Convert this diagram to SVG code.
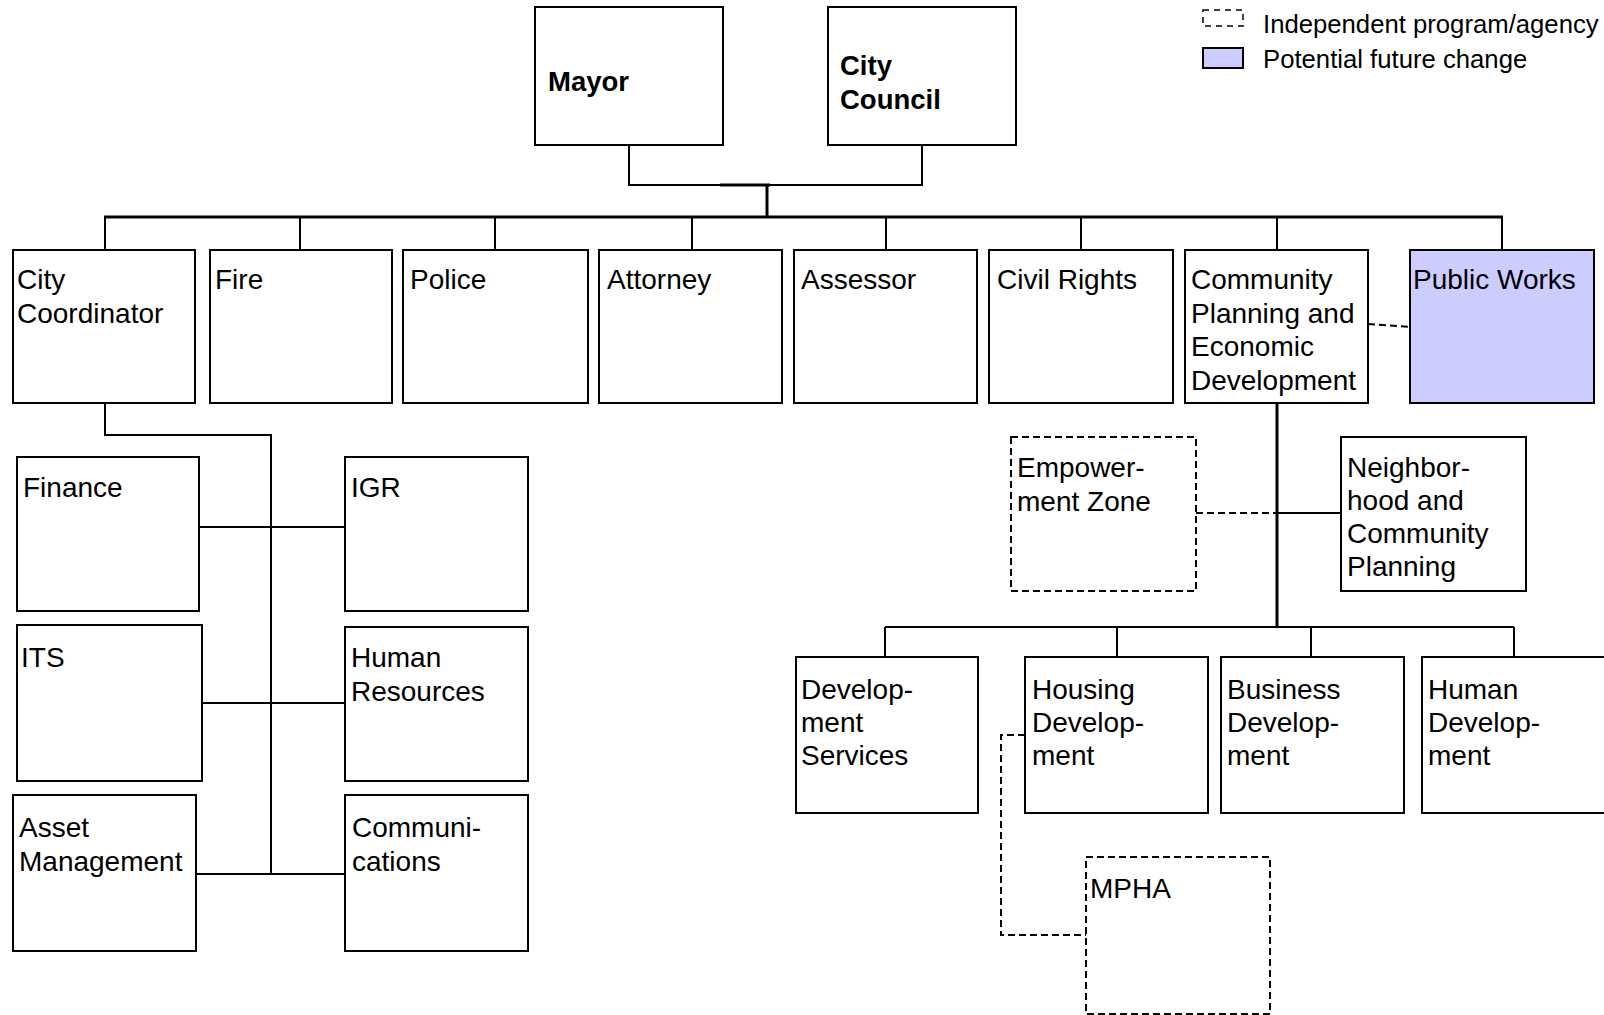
<svg xmlns="http://www.w3.org/2000/svg" width="1604" height="1015" viewBox="0 0 1604 1015">
  <style>
    .box { fill: #ffffff; stroke: #000000; stroke-width: 2; }
    .ind { fill: #ffffff; stroke: #000000; stroke-width: 2; stroke-dasharray: 7 4; }
    .chg { fill: #ccccff; stroke: #000000; stroke-width: 2; }
    .lbl { font-family: "Liberation Sans", Arial, sans-serif; font-size: 28px; fill: #000000; }
    .bold { font-family: "Liberation Sans", Arial, sans-serif; font-size: 27.5px; font-weight: bold; fill: #000000; }
    .leg { font-family: "Liberation Sans", Arial, sans-serif; font-size: 25.7px; fill: #000000; }
    .ln { fill: none; stroke: #000000; stroke-width: 2; }
    .thick { fill: none; stroke: #000000; stroke-width: 3; }
    .dash { fill: none; stroke: #000000; stroke-width: 2; stroke-dasharray: 7 4; }
  </style>

  <!-- legend -->
  <g id="legend">
    <rect x="1203" y="10" width="40" height="16" fill="#ffffff" stroke="#000000" stroke-width="1.5" stroke-dasharray="6 5"/>
    <text class="leg" x="1263" y="33">Independent program/agency</text>
    <rect x="1203" y="48" width="40" height="20" class="chg"/>
    <text class="leg" x="1263" y="68">Potential future change</text>
  </g>

  <!-- connectors -->
  <g id="connectors">
    <!-- executive -->
    <polyline class="ln" points="629,145 629,185 922,185 922,145"/>
    <line class="thick" x1="720" y1="185" x2="770" y2="185"/>
    <line class="thick" x1="767" y1="185" x2="767" y2="217"/>
    <line class="thick" x1="104" y1="217" x2="1503" y2="217"/>
    <line class="ln" x1="105" y1="217" x2="105" y2="250"/>
    <line class="ln" x1="300" y1="217" x2="300" y2="250"/>
    <line class="ln" x1="495" y1="217" x2="495" y2="250"/>
    <line class="ln" x1="692" y1="217" x2="692" y2="250"/>
    <line class="ln" x1="886" y1="217" x2="886" y2="250"/>
    <line class="ln" x1="1081" y1="217" x2="1081" y2="250"/>
    <line class="ln" x1="1277" y1="217" x2="1277" y2="250"/>
    <line class="ln" x1="1502" y1="217" x2="1502" y2="250"/>

    <!-- City Coordinator departments -->
    <polyline class="ln" points="105,403 105,435 271,435 271,874"/>
    <line class="ln" x1="199" y1="527" x2="345" y2="527"/>
    <line class="ln" x1="199" y1="703" x2="345" y2="703"/>
    <line class="ln" x1="196" y1="874" x2="345" y2="874"/>

    <!-- CPED -->
    <line class="dash" x1="1368" y1="324" x2="1410" y2="327"/>
    <line class="thick" x1="1277" y1="403" x2="1277" y2="627"/>
    <line class="dash" x1="1196" y1="513" x2="1277" y2="513"/>
    <line class="ln" x1="1277" y1="513" x2="1341" y2="513"/>
    <line class="ln" x1="885" y1="627" x2="1514" y2="627"/>
    <line class="ln" x1="885" y1="627" x2="885" y2="657"/>
    <line class="ln" x1="1117" y1="627" x2="1117" y2="657"/>
    <line class="ln" x1="1311" y1="627" x2="1311" y2="657"/>
    <line class="ln" x1="1514" y1="627" x2="1514" y2="657"/>
    <polyline class="dash" points="1025,735 1001,735 1001,935 1086,935"/>
  </g>

  <!-- elected officials -->
  <g id="mayor">
    <rect class="box" x="535" y="7" width="188" height="138"/>
    <text class="bold" x="548" y="91">Mayor</text>
  </g>
  <g id="city-council">
    <rect class="box" x="828" y="7" width="188" height="138"/>
    <text class="bold" x="840" y="75">City</text>
    <text class="bold" x="840" y="109">Council</text>
  </g>

  <!-- departments -->
  <g id="city-coordinator">
    <rect class="box" x="13" y="250" width="182" height="153"/>
    <text class="lbl" x="17" y="289">City</text>
    <text class="lbl" x="17" y="323">Coordinator</text>
  </g>
  <g id="fire">
    <rect class="box" x="210" y="250" width="182" height="153"/>
    <text class="lbl" x="215" y="289">Fire</text>
  </g>
  <g id="police">
    <rect class="box" x="403" y="250" width="185" height="153"/>
    <text class="lbl" x="410" y="289">Police</text>
  </g>
  <g id="attorney">
    <rect class="box" x="599" y="250" width="183" height="153"/>
    <text class="lbl" x="607" y="289">Attorney</text>
  </g>
  <g id="assessor">
    <rect class="box" x="794" y="250" width="183" height="153"/>
    <text class="lbl" x="801" y="289">Assessor</text>
  </g>
  <g id="civil-rights">
    <rect class="box" x="989" y="250" width="184" height="153"/>
    <text class="lbl" x="997" y="289">Civil Rights</text>
  </g>
  <g id="cped">
    <rect class="box" x="1185" y="250" width="183" height="153"/>
    <text class="lbl" x="1191" y="289">Community</text>
    <text class="lbl" x="1191" y="322.5">Planning and</text>
    <text class="lbl" x="1191" y="356">Economic</text>
    <text class="lbl" x="1191" y="389.5">Development</text>
  </g>
  <g id="public-works">
    <rect class="chg" x="1410" y="250" width="184" height="153"/>
    <text class="lbl" x="1413" y="289">Public Works</text>
  </g>

  <!-- City Coordinator departments -->
  <g id="finance">
    <rect class="box" x="17" y="457" width="182" height="154"/>
    <text class="lbl" x="23" y="497">Finance</text>
  </g>
  <g id="igr">
    <rect class="box" x="345" y="457" width="183" height="154"/>
    <text class="lbl" x="351" y="497">IGR</text>
  </g>
  <g id="its">
    <rect class="box" x="17" y="625" width="185" height="156"/>
    <text class="lbl" x="21" y="667">ITS</text>
  </g>
  <g id="human-resources">
    <rect class="box" x="345" y="627" width="183" height="154"/>
    <text class="lbl" x="351" y="667">Human</text>
    <text class="lbl" x="351" y="701">Resources</text>
  </g>
  <g id="asset-management">
    <rect class="box" x="13" y="795" width="183" height="156"/>
    <text class="lbl" x="19" y="837">Asset</text>
    <text class="lbl" x="19" y="871">Management</text>
  </g>
  <g id="communications">
    <rect class="box" x="345" y="795" width="183" height="156"/>
    <text class="lbl" x="352" y="837">Communi-</text>
    <text class="lbl" x="352" y="871">cations</text>
  </g>

  <!-- CPED divisions -->
  <g id="empowerment-zone">
    <rect class="ind" x="1011" y="437" width="185" height="154"/>
    <text class="lbl" x="1017" y="477">Empower-</text>
    <text class="lbl" x="1017" y="511">ment Zone</text>
  </g>
  <g id="neighborhood-planning">
    <rect class="box" x="1341" y="437" width="185" height="154"/>
    <text class="lbl" x="1347" y="477">Neighbor-</text>
    <text class="lbl" x="1347" y="510">hood and</text>
    <text class="lbl" x="1347" y="543">Community</text>
    <text class="lbl" x="1347" y="576">Planning</text>
  </g>
  <g id="development-services">
    <rect class="box" x="796" y="657" width="182" height="156"/>
    <text class="lbl" x="801" y="699">Develop-</text>
    <text class="lbl" x="801" y="732">ment</text>
    <text class="lbl" x="801" y="765">Services</text>
  </g>
  <g id="housing-development">
    <rect class="box" x="1025" y="657" width="183" height="156"/>
    <text class="lbl" x="1032" y="699">Housing</text>
    <text class="lbl" x="1032" y="732">Develop-</text>
    <text class="lbl" x="1032" y="765">ment</text>
  </g>
  <g id="business-development">
    <rect class="box" x="1221" y="657" width="183" height="156"/>
    <text class="lbl" x="1227" y="699">Business</text>
    <text class="lbl" x="1227" y="732">Develop-</text>
    <text class="lbl" x="1227" y="765">ment</text>
  </g>
  <g id="human-development">
    <rect class="box" x="1422" y="657" width="186" height="156"/>
    <text class="lbl" x="1428" y="699">Human</text>
    <text class="lbl" x="1428" y="732">Develop-</text>
    <text class="lbl" x="1428" y="765">ment</text>
  </g>
  <g id="mpha">
    <rect class="ind" x="1086" y="857" width="184" height="157"/>
    <text class="lbl" x="1090" y="898">MPHA</text>
  </g>
</svg>
